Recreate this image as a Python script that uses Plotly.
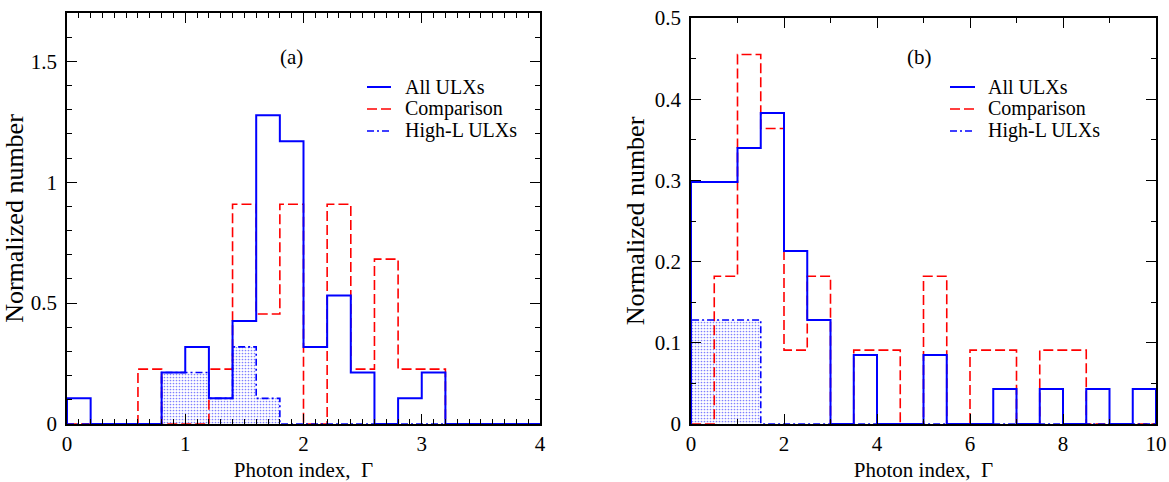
import plotly.graph_objects as go

# ---------------- data ----------------
left_bin_start = 0.0
left_bin_width = 0.2
left_all = [0.106, 0, 0, 0, 0.213, 0.319, 0.106, 0.426, 1.277, 1.170,
            0.319, 0.532, 0.213, 0, 0.106, 0.213, 0, 0, 0, 0]
left_cmp = [0, 0, 0, 0.227, 0, 0, 0.227, 0.909, 0.455, 0.909,
            0, 0.909, 0.227, 0.682, 0.227, 0.227, 0, 0, 0, 0]
left_high = [0, 0, 0, 0, 0.213, 0.213, 0.106, 0.319, 0.106, 0,
             0, 0, 0, 0, 0, 0, 0, 0, 0, 0]

right_bin_start = 0.0
right_bin_width = 0.5
right_all = [0.298, 0.298, 0.340, 0.383, 0.213, 0.128, 0, 0.085, 0, 0,
             0.085, 0, 0, 0.043, 0, 0.043, 0, 0.043, 0, 0.043]
right_cmp = [0, 0.182, 0.455, 0.364, 0.091, 0.182, 0, 0.091, 0.091, 0,
             0.182, 0, 0.091, 0.091, 0, 0.091, 0.091, 0, 0, 0]
right_high = [0.128, 0.128, 0.128, 0, 0, 0, 0, 0, 0, 0,
              0, 0, 0, 0, 0, 0, 0, 0, 0, 0]

series_names = ["All ULXs", "Comparison", "High-L ULXs"]
panel_labels = ["(a)", "(b)"]
x_title = "Photon index,\u00a0\u00a0\u0393"
y_title = "Normalized number"

# ---------------- style ----------------
W, H = 1169, 482
FONT = "Liberation Serif"
BLUE = "#0000ff"
RED = "#ff0000"
DASH = "10px,4px"
DASHDOT = "7px,3px,2px,3px"


def px_x(p):
    return p / W


def px_y(p):
    return 1 - p / H


def step(start, width, vals):
    n = len(vals)
    edges = [start + i * width for i in range(n + 1)]
    xs = [edges[0]] + edges[:n] + [edges[n], edges[n]]
    ys = [0] + list(vals) + [vals[-1], 0]
    return xs, ys


fig = go.Figure()

panels = [
    dict(start=left_bin_start, width=left_bin_width, all=left_all, cmp=left_cmp,
         high=left_high, xa="x", ya="y"),
    dict(start=right_bin_start, width=right_bin_width, all=right_all, cmp=right_cmp,
         high=right_high, xa="x2", ya="y2"),
]

for p in panels:
    xh, yh = step(p["start"], p["width"], p["high"])
    fig.add_trace(go.Scatter(x=xh, y=yh, mode="lines", line=dict(width=0, shape="hv"),
                             fill="tozeroy", fillcolor="rgba(0,0,0,0)",
                             fillpattern=dict(shape=".", fgcolor=BLUE, bgcolor="white",
                                              size=3, solidity=0.25),
                             xaxis=p["xa"], yaxis=p["ya"], showlegend=False,
                             hoverinfo="skip"))
    xc, yc = step(p["start"], p["width"], p["cmp"])
    fig.add_trace(go.Scatter(x=xc, y=yc, mode="lines",
                             line=dict(color=RED, width=1.6, dash=DASH, shape="hv"),
                             xaxis=p["xa"], yaxis=p["ya"], showlegend=False,
                             name=series_names[1]))
    fig.add_trace(go.Scatter(x=xh, y=yh, mode="lines",
                             line=dict(color=BLUE, width=1.6, dash=DASHDOT, shape="hv"),
                             xaxis=p["xa"], yaxis=p["ya"], showlegend=False,
                             name=series_names[2]))
    xa, ya = step(p["start"], p["width"], p["all"])
    fig.add_trace(go.Scatter(x=xa, y=ya, mode="lines",
                             line=dict(color=BLUE, width=2, shape="hv"),
                             xaxis=p["xa"], yaxis=p["ya"], showlegend=False,
                             name=series_names[0]))

TICKFONT = dict(family=FONT, size=21, color="black")
XTITLEFONT = dict(family=FONT, size=21, color="black")
YTITLEFONT = dict(family=FONT, size=26, color="black")

axis_common = dict(showline=True, linecolor="black", linewidth=1.5, mirror="allticks",
                   ticks="inside", ticklen=10, tickwidth=1.2, tickcolor="black",
                   showgrid=False, zeroline=False, tickfont=TICKFONT,
                   automargin=False)

fig.update_layout(
    width=W, height=H,
    margin=dict(l=0, r=0, t=0, b=0),
    paper_bgcolor="white", plot_bgcolor="white",
    showlegend=False,
    font=dict(family=FONT, size=21, color="black"),
    xaxis=dict(axis_common, domain=[px_x(67), px_x(540)], range=[0, 4], dtick=1,
               anchor="y",
               minor=dict(ticks="inside", ticklen=5, dtick=0.1, tickcolor="black"),
               title=dict(text=x_title, standoff=8, font=XTITLEFONT)),
    yaxis=dict(axis_common, domain=[px_y(424), px_y(13)], range=[0, 1.7], dtick=0.5,
               anchor="x", ticklabelstandoff=4,
               minor=dict(ticks="inside", ticklen=5, dtick=0.1, tickcolor="black"),
               title=dict(text=y_title, standoff=3, font=YTITLEFONT)),
    xaxis2=dict(axis_common, domain=[px_x(691), px_x(1156)], range=[0, 10], dtick=2,
                anchor="y2",
                minor=dict(ticks="inside", ticklen=5, dtick=1, tickcolor="black"),
                title=dict(text=x_title, standoff=8, font=XTITLEFONT)),
    yaxis2=dict(axis_common, domain=[px_y(424), px_y(18)], range=[0, 0.5], dtick=0.1,
                anchor="x2", ticklabelstandoff=4,
                minor=dict(ticks="inside", ticklen=5, dtick=0.05, tickcolor="black"),
                title=dict(text=y_title, standoff=3, font=YTITLEFONT)),
)

# panel labels
fig.add_annotation(x=(291 - 67) / (540 - 67), y=1 - (43 - 13) / (424 - 13),
                   xref="x domain", yref="y domain", text=panel_labels[0],
                   showarrow=False, font=dict(family=FONT, size=21))
fig.add_annotation(x=(920 - 691) / (1156 - 691), y=1 - (43 - 18) / (424 - 18),
                   xref="x2 domain", yref="y2 domain", text=panel_labels[1],
                   showarrow=False, font=dict(family=FONT, size=21))

# manual legends (sample line + text)
legend_specs = [
    dict(x0=367, x1=391, tx=403, ys=[87, 109, 131]),
    dict(x0=950, x1=975, tx=986, ys=[87, 109, 131]),
]
line_styles = [dict(color=BLUE, width=2, dash="solid"),
               dict(color=RED, width=1.6, dash=DASH),
               dict(color=BLUE, width=1.6, dash=DASHDOT)]
for spec in legend_specs:
    for name, ly, st in zip(series_names, spec["ys"], line_styles):
        fig.add_shape(type="line", xref="paper", yref="paper",
                      x0=px_x(spec["x0"]), x1=px_x(spec["x1"]),
                      y0=px_y(ly), y1=px_y(ly), line=st)
        fig.add_annotation(xref="paper", yref="paper", x=px_x(spec["tx"]), y=px_y(ly),
                           xanchor="left", yanchor="middle", text=name,
                           showarrow=False, font=dict(family=FONT, size=20))

fig.write_html("out.html")
